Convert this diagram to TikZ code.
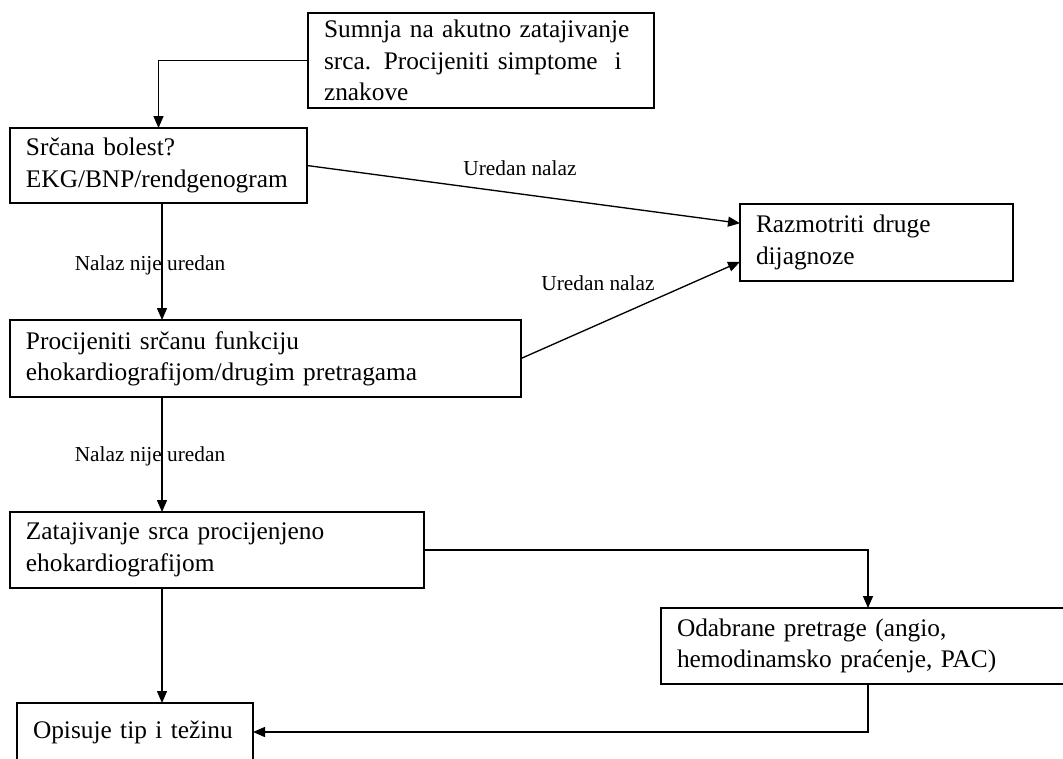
\documentclass[tikz,border=0pt]{standalone}
\usepackage{fontspec}
\setmainfont{Liberation Serif}
\usetikzlibrary{arrows.meta,calc}
\tikzset{
 box/.style={draw, line width=1.4pt, anchor=north west, align=left, inner xsep=12pt, inner ysep=0pt, outer sep=0pt, font=\fontsize{19}{23.5}\selectfont},
 arr/.style={line width=1pt, -{Triangle[length=9pt,width=7.5pt]}},
 lbl/.style={font=\fontsize{16}{19}\selectfont, inner sep=0pt},
}
\begin{document}
\begin{tikzpicture}[x=0.75pt,y=-0.75pt]
\useasboundingbox (0,0) rectangle (1063,758);
\clip (0,0) rectangle (1063,758);
\node[box, text width=235.5pt, minimum height=71.25pt] (b1) at (308,13) {Sumnja na akutno zatajivanje\\srca. Procijeniti simptome\ \ i\\znakove};
\node[box, text width=198.75pt, minimum height=56.25pt] (b2) at (10,128) {Srčana bolest?\\EKG/BNP/rendgenogram};
\node[box, text width=180.75pt, minimum height=57.75pt] (razm) at (740,204) {Razmotriti druge\\dijagnoze};
\node[box, text width=359.25pt, minimum height=57.75pt] (proc) at (10,320) {Procijeniti srčanu funkciju\\ehokardiografijom/drugim pretragama};
\node[box, text width=286.5pt, minimum height=57pt] (b4) at (10,512) {Zatajivanje srca procijenjeno\\ehokardiografijom};
\node[box, text width=290.25pt, minimum height=57pt] (b6) at (661,608) {Odabrane pretrage (angio,\\hemodinamsko praćenje, PAC)};
\node[box, text width=153pt, minimum height=43.5pt] (b5) at (17,703) {Opisuje tip i težinu};

\draw[arr] (b1.west) -| (b2.north);
\draw[arr] (b2.east) -- ($(razm.north west)!0.25!(razm.south west)$);
\draw[arr] (proc.east) -- ($(razm.north west)!0.75!(razm.south west)$);
\draw[arr] ([xshift=114pt]b2.south west) -- ([xshift=114pt]proc.north west);
\draw[arr] ([xshift=114pt]proc.south west) -- ([xshift=114pt]b4.north west);
\draw[arr] ([xshift=114pt]b4.south west) -- ([xshift=108.75pt]b5.north west);
\draw[arr] (b4.east) -| ([xshift=155.25pt]b6.north west);
\draw[arr] ([xshift=155.25pt]b6.south west) |- (b5.east);

\node[lbl] (l1) at (520,168) {Uredan nalaz};
\node[lbl] (l2) at (598,283) {Uredan nalaz};
\node[lbl] (l3) at (150,265) {Nalaz nije uredan};
\node[lbl] (l4) at (150,456) {Nalaz nije uredan};
\end{tikzpicture}
\end{document}
